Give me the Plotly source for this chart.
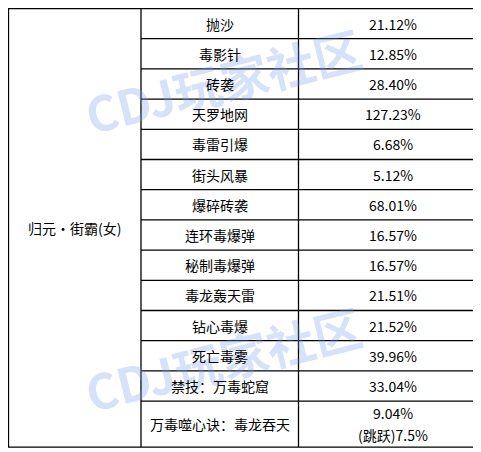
import plotly.graph_objects as go

group = "归元·街霸(女)"
skills = ["抛沙","毒影针","砖袭","天罗地网","毒雷引爆","街头风暴","爆碎砖袭","连环毒爆弹","秘制毒爆弹","毒龙轰天雷","钻心毒爆","死亡毒雾","禁技：万毒蛇窟","万毒噬心诀：毒龙吞天"]
values = ["21.12%","12.85%","28.40%","127.23%","6.68%","5.12%","68.01%","16.57%","16.57%","21.51%","21.52%","39.96%","33.04%","9.04%|(跳跃)7.5%"]

heights = [30.2]*13 + [46]
cols = [0.5, 133, 290.5, 479.5]
edges = [0.5]
for h in heights:
    edges.append(edges[-1]+h)

fig = go.Figure()
shapes = []
ann = []
font = dict(family="Noto Sans CJK SC", size=14, color="#000")
lw = 1.3
shapes.append(dict(type="rect", x0=cols[0], x1=cols[3], y0=edges[0], y1=edges[-1], line=dict(color="black", width=lw)))
shapes.append(dict(type="line", x0=cols[1], x1=cols[1], y0=edges[0], y1=edges[-1], line=dict(color="black", width=lw)))
shapes.append(dict(type="line", x0=cols[2], x1=cols[2], y0=edges[0], y1=edges[-1], line=dict(color="black", width=lw)))
for e in edges[1:-1]:
    shapes.append(dict(type="line", x0=cols[1], x1=cols[3], y0=e, y1=e, line=dict(color="black", width=lw)))
for (x, y) in [(215, 72), (215, 350)]:
    ann.append(dict(x=x, y=y, text="<b>CDJ玩家社区</b>", showarrow=False, textangle=-14,
                    font=dict(family="Noto Sans CJK SC", size=48, color="rgba(120,160,235,0.3)")))
ann.append(dict(x=(cols[0]+cols[1])/2, y=(edges[0]+edges[-1])/2, text=group, showarrow=False, font=font))
for i, (s, v) in enumerate(zip(skills, values)):
    yc = (edges[i]+edges[i+1])/2
    ann.append(dict(x=(cols[1]+cols[2])/2, y=yc, text=s, showarrow=False, font=font))
    parts = v.split("|")
    n = len(parts)
    for k, p in enumerate(parts):
        ann.append(dict(x=(cols[2]+cols[3])/2, y=yc + (k - (n-1)/2)*22, text=p, showarrow=False, font=font))

fig.update_layout(width=481, height=452, margin=dict(l=0, r=0, t=0, b=0),
                  plot_bgcolor="white", paper_bgcolor="white", shapes=shapes, annotations=ann,
                  xaxis=dict(range=[0, 481], visible=False, fixedrange=True),
                  yaxis=dict(range=[452, 0], visible=False, fixedrange=True), showlegend=False)
fig.write_html("out.html")
